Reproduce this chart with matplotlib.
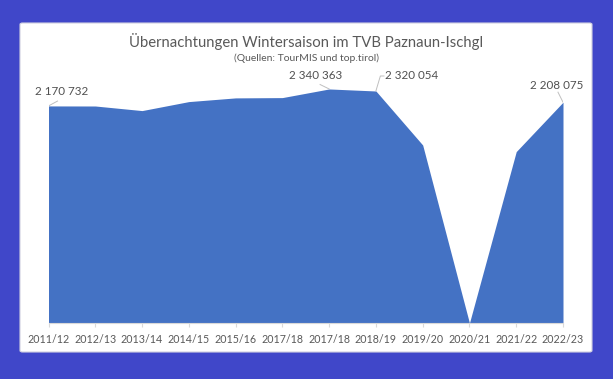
import matplotlib
matplotlib.use("Agg")
import matplotlib.pyplot as plt
from matplotlib.patches import FancyBboxPatch
import numpy as np

seasons = ["2011/12", "2012/13", "2013/14", "2014/15", "2015/16", "2017/18",
           "2017/18", "2018/19", "2019/20", "2020/21", "2021/22", "2022/23"]
nights = [2170732, 2170000, 2124000, 2214000, 2251000, 2254000,
          2340363, 2320054, 1780000, 0, 1714000, 2208075]
labelled = {0: "2 170 732", 6: "2 340 363", 7: "2 320 054", 11: "2 208 075"}

title = "Übernachtungen Wintersaison im TVB Paznaun-Ischgl"
subtitle = "(Quellen: TourMIS und top.tirol)"

plt.rcParams['font.family'] = ['Lato', 'DejaVu Sans']
W, H = 613, 379
fig = plt.figure(figsize=(W / 100, H / 100), dpi=100)
fig.patch.set_facecolor("#4047C9")

# white panel
panel = FancyBboxPatch((20 / W, 1 - 352 / H), (592 - 20) / W, (352 - 23) / H,
                       boxstyle="round,pad=0,rounding_size=0.004",
                       transform=fig.transFigure, facecolor="white",
                       edgecolor="#D0D0E0", linewidth=0.8, zorder=-10)
fig.patches.append(panel)

ax = fig.add_axes([48.5 / W, 1 - 323 / H, (563 - 48.5) / W, (323 - 73) / H])
ax.set_facecolor("none")
x = np.arange(len(seasons))
ax.fill_between(x, nights, 0, color="#4472C4", linewidth=0)
ax.set_xlim(0, len(seasons) - 1)
ax.set_ylim(0, 2500000)
ax.set_yticks([])
for s in ["top", "right", "left"]:
    ax.spines[s].set_visible(False)
ax.spines["bottom"].set_color("#D9D9D9")
ax.spines["bottom"].set_linewidth(0.8)
ax.set_xticks(x)
ax.set_xticklabels(seasons, fontsize=7.7, color="#595959")
ax.tick_params(axis="x", length=3, color="#D9D9D9", pad=5)

gray = "#505050"
lc = "#BFBFBF"
# label position offsets (points) relative to the data point, and leader path (points)
label_pos = {0: (9.4, 10.3, "center"), 6: (-9.4, 9.4, "center"),
             7: (6.4, 10.8, "left"), 11: (-4.3, 12.2, "center")}
leaders = {0: [(0, 0), (6.5, 3.5)], 6: [(0, 0), (-6.5, 3.2)],
           7: [(0, 0), (3.2, 10.8), (5.8, 10.8)], 11: [(0, 0), (-3.6, 7.2)]}
for i, txt in labelled.items():
    dx, dy, ha = label_pos[i]
    ax.annotate(txt, xy=(x[i], nights[i]), xytext=(dx, dy), textcoords="offset points",
                ha=ha, va="center", fontsize=8.4, color=gray)
    base = ax.transData.transform((x[i], nights[i]))
    disp = [(base[0] + px * fig.dpi / 72, base[1] + py * fig.dpi / 72) for px, py in leaders[i]]
    ax.add_line(plt.Line2D([d[0] for d in disp], [d[1] for d in disp],
                           transform=None, color=lc, lw=0.7))

fig.text(306 / W, 1 - 41 / H, title, ha="center", va="center", fontsize=10.7, color="#595959")
fig.text(306 / W, 1 - 58 / H, subtitle, ha="center", va="center", fontsize=7.5, color="#595959")

fig.savefig("out.png", dpi=100, facecolor=fig.get_facecolor())
